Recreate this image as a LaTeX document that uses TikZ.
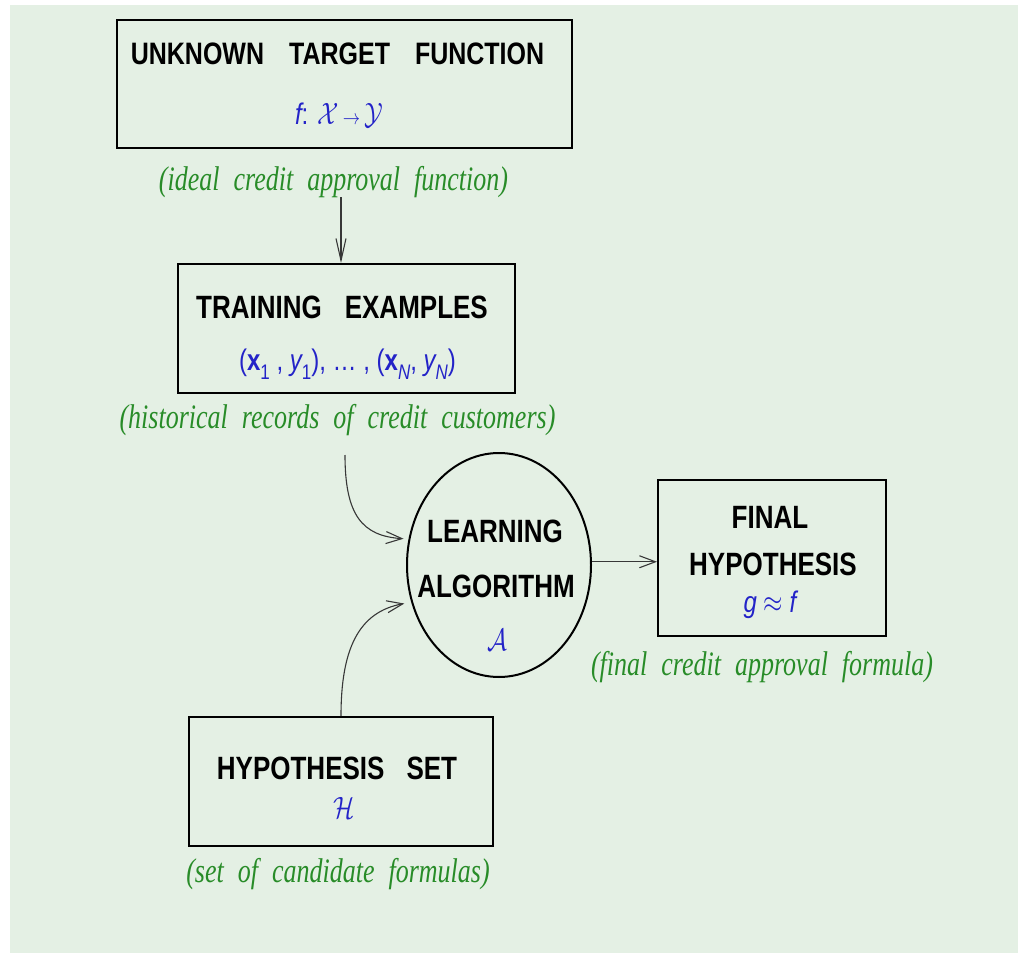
\documentclass[tikz,border=0pt]{standalone}
\usepackage{fontspec}
\setmainfont{Liberation Serif}
\setsansfont{Liberation Sans}
\usepackage{graphicx}
\usetikzlibrary{arrows.meta,shapes.geometric}

\definecolor{paper}{RGB}{228,240,228}
\definecolor{inkblue}{RGB}{35,35,200}
\definecolor{inkgreen}{RGB}{40,140,40}
\definecolor{wire}{RGB}{55,55,55}

% slightly tall lettering
\newcommand\tall[1]{\scalebox{1}[1.24]{#1}}
\newcommand\taller[1]{\scalebox{1}[1.32]{#1}}
% small lowered index
\newcommand\lo[1]{\raisebox{-0.55ex}{\fontsize{17}{17}\selectfont #1}}

\begin{document}
\begin{tikzpicture}[x=1pt,y=-1pt,
  box/.style={draw=black, line width=2pt, inner sep=0pt, rectangle},
  blob/.style={draw=black, line width=2pt, inner sep=0pt, ellipse},
  head/.style={font=\sffamily\bfseries\fontsize{26}{30}\selectfont, inner sep=0pt},
  formula/.style={text=inkblue, font=\sffamily\fontsize{24}{28}\selectfont, inner sep=0pt},
  note/.style={text=inkgreen, font={\rmfamily\itshape\fontsize{26}{30}\selectfont\spaceskip=14pt\relax}, inner sep=0pt},
  flow/.style={draw=wire, line width=1.1pt, -{Straight Barb[length=16pt,width=12pt]}}
]
% page and tinted panel
\fill[white] (0,0) rectangle (1018,953);
\fill[paper] (10,5) rectangle (1018,953);
\useasboundingbox (0,0) rectangle (1018,953);

% ---- unknown target function
\node[box, minimum width=455pt, minimum height=128pt] (target) at (344.5,84) {};
\node[head, font=\sffamily\bfseries\fontsize{25}{30}\selectfont] (targetT) at (337.5,53.5) {\tall{UNKNOWN\hspace{25pt}TARGET\hspace{25pt}FUNCTION}};
\node[formula] (targetF) at (339,115) {\tall{{\itshape f}: $\mathcal{X}\,{\scriptstyle\rightarrow}\,\mathcal{Y}$}};
\node[note] (targetN) at (333.5,182) {\taller{(ideal credit approval function)}};

% ---- training examples
\node[box, minimum width=337pt, minimum height=129pt] (train) at (346.5,328.5) {};
\node[head] (trainT) at (342,307) {\tall{TRAINING\hspace{23pt}EXAMPLES}};
\node[formula] (trainF) at (347.5,364) {\tall{({\bfseries x}\lo{1} , {\itshape y}\lo{1}), \dots\ , ({\bfseries x}\lo{\itshape N}, {\itshape y}\lo{\itshape N})}};
\node[note] (trainN) at (337.5,420) {\taller{(historical records of credit customers)}};

% ---- learning algorithm
\node[blob, minimum width=184pt, minimum height=224pt] (alg) at (499,565) {};
\node[head] (algT1) at (495,531) {\tall{LEARNING}};
\node[head] (algT2) at (496,586) {\tall{ALGORITHM}};
\node[formula] (algF) at (497,640) {\tall{$\mathcal{A}$}};

% ---- final hypothesis
\node[box, minimum width=228pt, minimum height=156pt] (final) at (772,558) {};
\node[head] (finalT1) at (770,517) {\tall{FINAL}};
\node[head] (finalT2) at (773,564) {\tall{HYPOTHESIS}};
\node[formula] (finalF) at (770,605) {\tall{{\itshape g} $\approx$ {\itshape f}}};
\node[note] (finalN) at (762,667) {\taller{(final credit approval formula)}};

% ---- hypothesis set
\node[box, minimum width=304pt, minimum height=129pt] (hset) at (341,781.5) {};
\node[head] (hsetT) at (337,768) {\tall{HYPOTHESIS\hspace{22pt}SET}};
\node[formula] (hsetF) at (344,808) {\tall{$\mathcal{H}$}};
\node[note] (hsetN) at (338,874) {\taller{(set of candidate formulas)}};

% ---- connectors
\coordinate (drop) at (341,197);
\draw[flow, -{Straight Barb[length=22pt,width=10pt]}] (drop) -- (drop |- train.north);
\coordinate (feed) at (345,455);
\draw[flow, shorten >=5pt] (feed) .. controls (345,515) and (362,536) .. (alg.164);
\draw[flow, shorten >=7pt] (hset.north) .. controls (341,650) and (358,612) .. (alg.203);
\draw[flow] (alg.2) -- (alg.2 -| final.west);
\end{tikzpicture}
\end{document}
